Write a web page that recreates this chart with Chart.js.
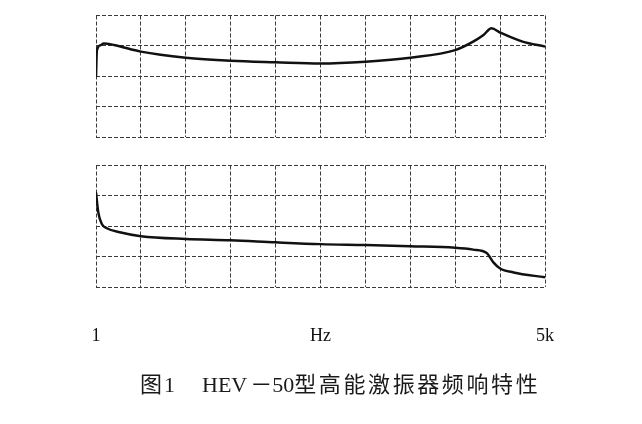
<!DOCTYPE html>
<html>
<head>
<meta charset="utf-8">
<script src="https://cdn.jsdelivr.net/npm/chart.js@4/dist/chart.umd.min.js"></script>
<style>
    body { margin: 0; background: #fff; width: 642px; height: 424px; position: relative; overflow: hidden; }
    .box { position: absolute; left: 0; width: 642px; }
    #caption { position: absolute; top: 366px; left: 0; font-size: 22px; color: #1a1a1a; white-space: nowrap; }
    #caption span { position: absolute; top: 0; }
    .lat { font-family: "Liberation Serif", serif; }
    .cjk { font-family: "Noto Sans CJK SC", sans-serif; letter-spacing: 2.6px; }
</style>
</head>
<body>
<div class="box" style="top:0;height:150px"><canvas id="topChart" width="642" height="150"></canvas></div>
<div class="box" style="top:150px;height:250px"><canvas id="bottomChart" width="642" height="250"></canvas></div>
<div id="caption">
    <span style="left:140px"><span class="cjk" style="position:static;letter-spacing:0">图</span><span class="lat" style="position:static;margin-left:2px">1</span></span>
    <span style="left:202px"><span class="lat" style="position:static">HEV</span><span class="cjk" style="position:static;margin-left:3px;letter-spacing:0">－</span><span class="lat" style="position:static">50</span><span class="cjk" style="position:static">型高能激振器频响特性</span></span>
</div>

<script>
// posiciones en divisiones de la rejilla (escala log de 1 Hz a 5 kHz)
const xTop = [0, 0.02, 0.1, 0.17, 0.4, 1, 2, 3, 4, 5, 6, 7, 8, 8.4, 8.63, 8.81, 9, 9.5, 10];
const ampTop = [1.98, 2.85, 3.02, 3.08, 3.03, 2.81, 2.61, 2.51, 2.46, 2.42, 2.48, 2.61, 2.86, 3.14, 3.36, 3.58, 3.44, 3.14, 2.98];

const xBottom = [0, 0.05, 0.13, 0.24, 0.53, 1, 2, 3, 4, 5, 6, 7, 8, 8.4, 8.7, 8.85, 9, 9.3, 10];
const ampBottom = [3.12, 2.47, 2.08, 1.94, 1.81, 1.68, 1.59, 1.55, 1.48, 1.42, 1.39, 1.35, 1.30, 1.24, 1.13, 0.82, 0.62, 0.49, 0.33];

const tickAt = [0, 5, 10];
const tickLabels = ['1', 'Hz', '5k'];

const gridColor = '#3a3a3a';

function makeChart(id, xs, ys, showLabels, padding) {
    const points = xs.map((x, i) => ({ x, y: ys[i] }));
    return new Chart(document.getElementById(id).getContext('2d'), {
        type: 'line',
        data: {
            datasets: [{
                data: points,
                borderColor: '#111',
                borderWidth: 2.5,
                pointRadius: 0,
                cubicInterpolationMode: 'monotone',
                fill: false
            }]
        },
        options: {
            responsive: false,
            animation: false,
            layout: { padding },
            plugins: { legend: { display: false }, tooltip: { enabled: false } },
            scales: {
                x: {
                    type: 'linear',
                    min: 0,
                    max: 10,
                    grid: { color: gridColor, lineWidth: 1, drawTicks: false },
                    border: { display: false, dash: [4, 2] },
                    ticks: {
                        display: showLabels,
                        stepSize: 1,
                        autoSkip: false,
                        maxRotation: 0,
                        padding: 38,
                        color: '#111',
                        font: { family: 'Liberation Serif', size: 18 },
                        callback: v => {
                            const k = tickAt.indexOf(v);
                            return k >= 0 ? tickLabels[k] : '';
                        }
                    }
                },
                y: {
                    min: 0,
                    max: 4,
                    grid: { color: gridColor, lineWidth: 1, drawTicks: false },
                    border: { display: false, dash: [4, 2] },
                    ticks: { display: false, stepSize: 1 }
                }
            }
        }
    });
}

makeChart('topChart', xTop, ampTop, false, { left: 96, right: 97, top: 15.5, bottom: 13 });
makeChart('bottomChart', xBottom, ampBottom, true, { left: 96, right: 97, top: 15.5, bottom: 15 });
</script>
</body>
</html>
